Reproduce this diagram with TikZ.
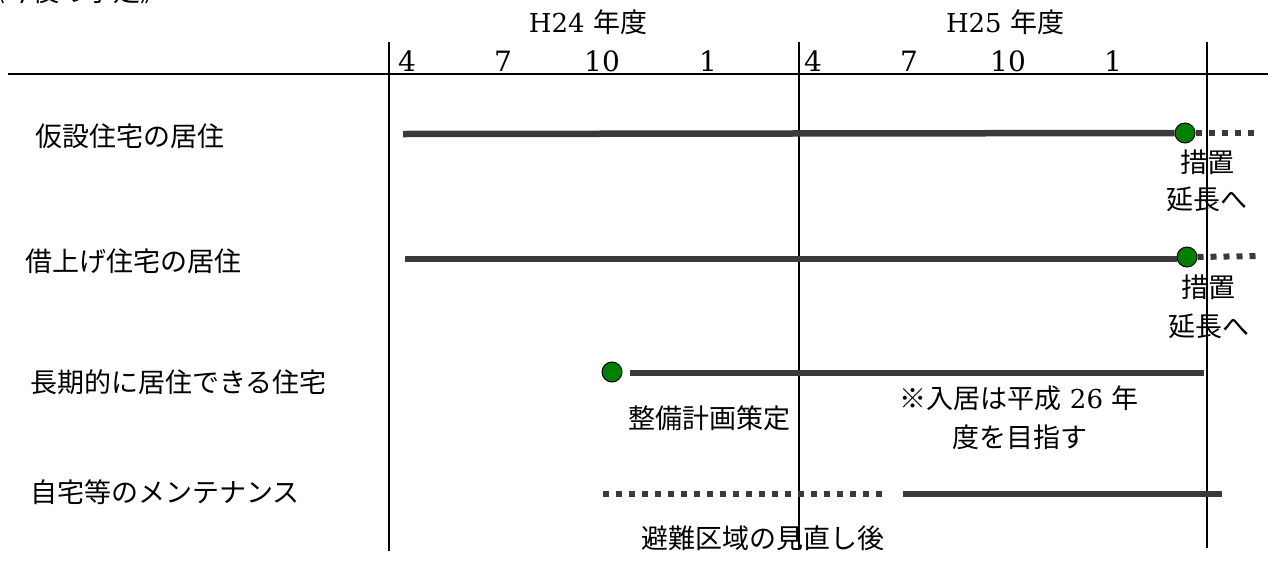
\documentclass[tikz,border=0pt]{standalone}
\usepackage{fontspec}
\setmainfont{DejaVu Serif}
\newfontfamily\jpfont{Noto Sans CJK JP}
\newcommand{\J}[1]{{\jpfont #1}}
\tikzset{
  lbl/.style={inner sep=0pt, font=\fontsize{27}{30}\selectfont},
  month/.style={inner sep=0pt, anchor=base, font=\fontsize{28}{30}\selectfont},
  axisline/.style={line width=1.5pt, black},
  bar/.style={line width=6.5pt, draw={rgb,255:red,58;green,58;blue,58}},
  dotbar/.style={line width=6pt, draw={rgb,255:red,58;green,58;blue,58}, dash pattern=on 6pt off 7pt},
  milestone/.style={circle, draw=black, line width=1pt, fill={rgb,255:red,0;green,128;blue,0}, minimum size=20pt, inner sep=0pt}
}
\begin{document}
\begin{tikzpicture}[x=1pt,y=-1pt]
\useasboundingbox (0,0) rectangle (1268,563);
\begin{scope}
\clip (0,0) rectangle (1268,563);
\node[lbl, anchor=west] (title) at (-22,-9) {\J{《今後の予定》}};
\end{scope}
% axis
\coordinate (axL) at (8,74);
\coordinate (axR) at (1268,74);
\draw[axisline] (axL) -- (axR);
\coordinate (v1t) at (389,42); \coordinate (v1b) at (389,551);
\coordinate (v2t) at (799,42); \coordinate (v2b) at (799,548);
\coordinate (v3t) at (1207,42); \coordinate (v3b) at (1207,548);
\draw[axisline] (v1t) -- (v1b);
\draw[axisline] (v2t) -- (v2b);
\draw[axisline] (v3t) -- (v3b);
% year labels
\node[lbl, font=\fontsize{26}{30}\selectfont] (h24) at (588,22) {H24 \J{\fontsize{27}{30}\selectfont 年度}};
\node[lbl, font=\fontsize{26}{30}\selectfont] (h25) at (1005,22) {H25 \J{\fontsize{27}{30}\selectfont 年度}};
% months
\node[month] (m1) at (407,71) {4};
\node[month] (m2) at (503,71) {7};
\node[month] (m3) at (602,71) {10};
\node[month] (m4) at (708,71) {1};
\node[month] (m5) at (813,71) {4};
\node[month] (m6) at (909,71) {7};
\node[month] (m7) at (1008,71) {10};
\node[month] (m8) at (1113,71) {1};
% row labels
\node[lbl, anchor=west] (r1) at (35,136) {\J{仮設住宅の居住}};
\node[lbl, anchor=west] (r2) at (25,261) {\J{借上げ住宅の居住}};
\node[lbl, anchor=west] (r3) at (30,382) {\J{長期的に居住できる住宅}};
\node[lbl, anchor=west] (r4) at (30,492) {\J{自宅等のメンテナンス}};
% row 1
\coordinate (b1s) at (403,134);
\node[milestone] (c1) at (1185,133) {};
\coordinate (d1e) at (1254,133);
\draw[bar] (b1s) -- (c1.west);
\draw[dotbar] (c1.east) -- (d1e);
\node[lbl] (t1a) at (1207,162) {\J{措置}};
\node[lbl] (t1b) at (1207,199) {\J{延長へ}};
% row 2
\coordinate (b2s) at (405,259);
\node[milestone] (c2) at (1187,257) {};
\coordinate (d2e) at (1256,256);
\draw[bar] (b2s) -- (c2.west |- b2s);
\draw[dotbar] (c2.east) -- (d2e);
\node[lbl] (t2a) at (1208,287) {\J{措置}};
\node[lbl] (t2b) at (1209,326) {\J{延長へ}};
% row 3
\node[milestone] (c3) at (612,372) {};
\coordinate (b3s) at (630,373);
\coordinate (b3e) at (1204,373);
\draw[bar] (b3s) -- (b3e);
\node[lbl] (t3) at (709,418) {\J{整備計画策定}};
\node[lbl] (t3b) at (1019,398) {\J{※入居は平成} {\fontsize{26}{30}\selectfont 26} \J{年}};
\node[lbl] (t3c) at (1020,437) {\J{度を目指す}};
% row 4
\coordinate (d4s) at (603,494);
\coordinate (d4e) at (888,494);
\coordinate (b4s) at (903,494);
\coordinate (b4e) at (1222,494);
\draw[dotbar] (d4s) -- (d4e);
\draw[bar] (b4s) -- (b4e);
\node[lbl] (t4) at (763,538) {\J{避難区域の見直し後}};
\end{tikzpicture}
\end{document}
